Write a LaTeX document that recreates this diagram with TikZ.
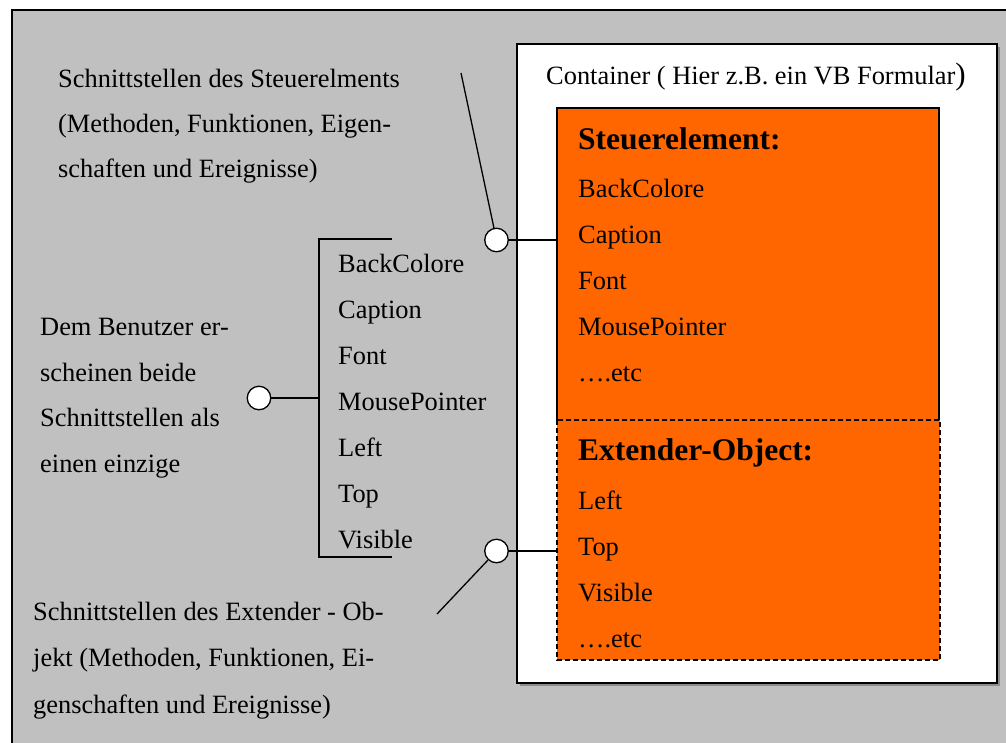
\documentclass[tikz,border=0pt]{standalone}
\usepackage{fontspec}
\setmainfont{Liberation Serif}
\definecolor{bggray}{HTML}{C0C0C0}
\definecolor{orng}{HTML}{FF6600}
\begin{document}
\begin{tikzpicture}[x=1pt,y=-1pt,
  txt/.style={anchor=base west,inner sep=0pt,font=\fontsize{26.4}{30}\selectfont},
  hd/.style={anchor=base west,inner sep=0pt,font=\fontsize{31.5}{36}\selectfont\bfseries},
  port/.style={circle,draw,fill=white,line width=1.3pt,minimum size=23.5pt,inner sep=0pt},
  conn/.style={line width=1.3pt},
  boxline/.style={line width=1.4pt}]
\useasboundingbox (0,0) rectangle (1006,742);
\clip (0,0) rectangle (1006,742);
\fill[white] (0,0) rectangle (1006,742);
% outer grey panel
\draw[fill=bggray,line width=1.6pt] (12,10) rectangle (1040,780);
% container
\fill[black!45] (520,47) rectangle (1000,686);
\draw[boxline,fill=white] (517,44) rectangle (997,683);
\node[txt] (cont) at (546,84) {Container ( Hier z.B. ein VB Formular{\fontsize{31}{36}\selectfont)}};
% Steuerelement box
\fill[orng] (557,108) rectangle (939,420);
\draw[boxline] (557,420) -- (557,108) -- (939,108) -- (939,420);
\node[hd] (steu) at (578,149) {Steuerelement:};
\node[txt] (s1) at (578,197) {BackColore};
\node[txt] (s2) at (578,243) {Caption};
\node[txt] (s3) at (578,289) {Font};
\node[txt] (s4) at (578,335) {MousePointer};
\node[txt] (s5) at (578,381) {\dots .etc};
% Extender box
\fill[orng] (557,420) rectangle (940,660);
\draw[line width=1.8pt,dash pattern=on 5pt off 3pt] (557,420) rectangle (940,660);
\node[hd] (ext) at (578,460) {Extender-Object:};
\node[txt] (e1) at (578,509) {Left};
\node[txt] (e2) at (578,555) {Top};
\node[txt] (e3) at (578,601) {Visible};
\node[txt] (e4) at (578,647) {\dots .etc};
% ports
\node[port] (p1) at (496.5,240) {};
\node[port] (p2) at (496.5,551) {};
\node[port] (p3) at (259,398) {};
\coordinate (p1end) at (557,240);
\coordinate (p2end) at (557,551);
\coordinate (p1free) at (461,73);
\coordinate (p2free) at (437,614);
\draw[conn] (p1) -- (p1end);
\draw[conn] (p1) -- (p1free);
\draw[conn] (p2) -- (p2end);
\draw[conn] (p2) -- (p2free);
% bracket
\coordinate (bt) at (392,239);
\coordinate (btl) at (319,239);
\coordinate (bbl) at (319,557);
\coordinate (bb) at (392,557);
\coordinate (bm) at (319,398);
\draw[conn] (bt) -- (btl) -- (bbl) -- (bb);
\draw[conn] (p3) -- (bm);
\node[txt] (b1) at (338,272) {BackColore};
\node[txt] (b2) at (338,318) {Caption};
\node[txt] (b3) at (338,364) {Font};
\node[txt] (b4) at (338,410) {MousePointer};
\node[txt] (b5) at (338,456) {Left};
\node[txt] (b6) at (338,502) {Top};
\node[txt] (b7) at (338,548) {Visible};
% left texts
\node[txt] (t1) at (58,87) {Schnittstellen des Steuerelments};
\node[txt] (t2) at (58,132) {(Methoden, Funktionen, Eigen-};
\node[txt] (t3) at (58,177) {schaften und Ereignisse)};
\node[txt] (m1) at (40,335) {Dem Benutzer er-};
\node[txt] (m2) at (40,381) {scheinen beide};
\node[txt] (m3) at (40,426) {Schnittstellen als};
\node[txt] (m4) at (40,472) {einen einzige};
\node[txt] (u1) at (33,620) {Schnittstellen des Extender - Ob-};
\node[txt] (u2) at (33,666) {jekt (Methoden, Funktionen, Ei-};
\node[txt] (u3) at (33,713) {genschaften und Ereignisse)};
\end{tikzpicture}
\end{document}
